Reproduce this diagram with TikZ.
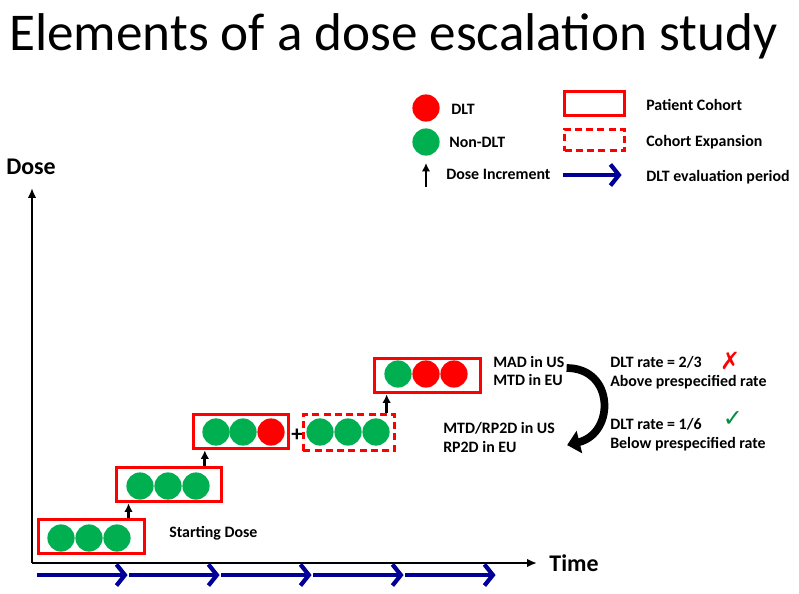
\documentclass[tikz,border=0pt]{standalone}
\usepackage{fontspec}
\setmainfont{Carlito}
\newfontfamily\symfont{DejaVu Sans}
\usetikzlibrary{arrows.meta}
\definecolor{dltred}{RGB}{255,0,0}
\definecolor{okgreen}{RGB}{0,176,80}
\definecolor{evalblue}{RGB}{0,0,150}

\begin{document}
\begin{tikzpicture}[x=0.025cm, y=-0.025cm,
      every node/.style = {inner sep=0pt, font=\bfseries\fontsize{11.3}{13.4}\selectfont},
      subj/.style = {circle, minimum size=0.68cm, fill=#1},
      cohort/.style = {draw=dltred, line width=2.3pt, minimum height=0.86cm},
      expand/.style = {cohort, dash pattern=on 5pt off 3pt},
      lbl/.style = {anchor=west, align=left},
      axis/.style = {line width=1.5pt, -{Latex[length=7pt,width=6pt]}},
      inc/.style = {line width=2pt, -{Latex[length=6pt,width=6pt]}},
      period/.style = {evalblue, line width=3pt, shorten >=1pt,
        -{Straight Barb[length=6pt,width=15pt,line width=3pt]}}]
  \useasboundingbox (0,0) rectangle (799,593);
  \node[anchor=base west, font=\fontsize{37.8}{40}\selectfont] (title) at (9,50)
    {Elements of a dose escalation study};

  \node[subj=dltred] (kdlt) at (426,108) {};
  \node[lbl] (tdlt) at (451,109) {DLT};
  \node[subj=okgreen] (kok) at (426,142) {};
  \node[lbl] (tok) at (449,142) {Non-DLT};
  \coordinate (kinc0) at (426,187);
  \coordinate (kinc1) at (426,163);
  \draw[inc] (kinc0) -- (kinc1);
  \node[lbl] (tinc) at (446,174) {Dose Increment};
  \node[cohort, minimum width=1.5cm, minimum height=0.6cm] (kbox) at (594.5,103.5) {};
  \node[lbl] (tbox) at (646,105) {Patient Cohort};
  \node[expand, minimum width=1.5cm, minimum height=0.53cm] (kexp) at (594.5,140) {};
  \node[lbl] (texp) at (646,142) {Cohort Expansion};
  \coordinate (kper0) at (563,175);
  \coordinate (kper1) at (623,175);
  \draw[period] (kper0) -- (kper1);
  \node[lbl] (tper) at (646,177) {DLT evaluation period};

  \coordinate (o) at (32,563);
  \coordinate (ytop) at (32,188);
  \coordinate (xend) at (537,563);
  \draw[axis] (o) -- (ytop);
  \draw[axis] (o) -- (xend);
  \node[font=\bfseries\fontsize{17}{20}\selectfont] (ylab) at (31,167) {Dose};
  \node[font=\bfseries\fontsize{17}{20}\selectfont] (xlab) at (574,563) {Time};

  \node[cohort, minimum width=2.65cm] (c1) at (91.5,536.5) {};
  \node[subj=okgreen] (a1) at (61,538) {};
  \node[subj=okgreen] (a2) at (89,538) {};
  \node[subj=okgreen] (a3) at (117,538) {};
  \node[lbl] (start) at (169,533) {Starting Dose};

  \node[cohort, minimum width=2.63cm] (c2) at (169,484.5) {};
  \node[subj=okgreen] (b1) at (140,486) {};
  \node[subj=okgreen] (b2) at (168,486) {};
  \node[subj=okgreen] (b3) at (196,486) {};

  \node[cohort, minimum width=2.38cm] (c3) at (241,431.5) {};
  \node[subj=okgreen] (d1) at (216,432) {};
  \node[subj=okgreen] (d2) at (243,432) {};
  \node[subj=dltred] (d3) at (271,432) {};
  \node[font=\bfseries\fontsize{16}{16}\selectfont] (plus) at (297,435) {+};

  \node[expand, minimum width=2.28cm, minimum height=0.9cm] (c3x) at (349,432.5) {};
  \node[subj=okgreen] (e1) at (320,432) {};
  \node[subj=okgreen] (e2) at (348,432) {};
  \node[subj=okgreen] (e3) at (376,432) {};

  \node[cohort, minimum width=2.65cm] (c4) at (427.5,375.5) {};
  \node[subj=okgreen] (f1) at (398,374) {};
  \node[subj=dltred] (f2) at (426,374) {};
  \node[subj=dltred] (f3) at (454,374) {};

  \coordinate (up1) at ([xshift=-0.44cm]c1.north east);
  \draw[inc] (up1) -- (up1 |- c2.south);
  \coordinate (up2) at ([xshift=-0.46cm]c2.north east);
  \draw[inc] (up2) -- (up2 |- c3.south);
  \coordinate (up3) at ([xshift=-0.24cm]c3x.north east);
  \draw[inc] (up3) -- (up3 |- c4.south);

  \node[lbl] (mad) at (493,371) {MAD in US\\MTD in EU};
  \node[lbl] (rp2d) at (443,437.5) {MTD/RP2D in US\\RP2D in EU};
  \draw[line width=5.5pt, -{Triangle[length=9pt,width=16pt]}]
    ([shift={(0.05cm,0.075cm)}]mad.east) .. controls +(48,0) and +(48,-12)
    .. ([shift={(0.3cm,-0.19cm)}]rp2d.east);

  \node[lbl] (above) at (610,372.5) {DLT rate = 2/3\\Above prespecified rate};
  \node[font=\symfont\fontsize{17}{17}\selectfont, text=dltred] (nogo) at (730,361) {✗};
  \node[lbl] (below) at (610,435) {DLT rate = 1/6\\Below prespecified rate};
  \node[font=\symfont\fontsize{17}{17}\selectfont, text=okgreen!80!black] (go) at (733,419) {✓};

  \coordinate (p0) at (37,575);
  \coordinate (p1) at (129,575);
  \coordinate (p2) at (221,575);
  \coordinate (p3) at (313,575);
  \coordinate (p4) at (405,575);
  \coordinate (p5) at (497,575);
  \draw[period] (p0) -- (p1);
  \draw[period] (p1) -- (p2);
  \draw[period] (p2) -- (p3);
  \draw[period] (p3) -- (p4);
  \draw[period] (p4) -- (p5);
\end{tikzpicture}
\end{document}
